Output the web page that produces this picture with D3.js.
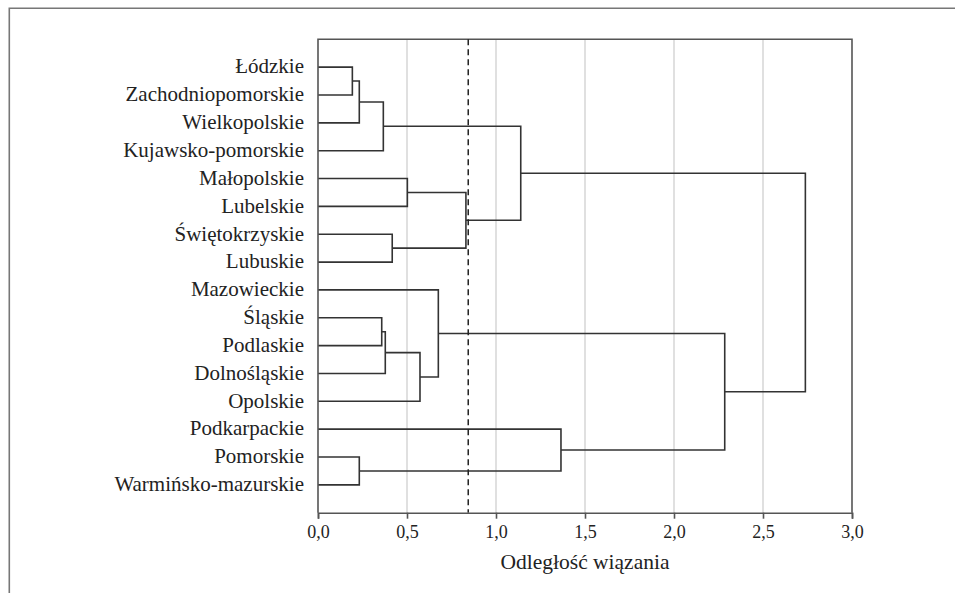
<!DOCTYPE html>
<html>
<head>
<meta charset="utf-8">
<script src="https://cdn.jsdelivr.net/npm/d3@7/dist/d3.min.js"></script>
<style>
  html, body { margin: 0; padding: 0; background: #fff; }
  svg { display: block; }
  svg text { font-family: 'Liberation Serif'; }
</style>
</head>
<body>
<svg id="chart" width="955" height="594" font-family="Liberation Serif"></svg>
<script>
// Voivodeships in dendrogram leaf order (top to bottom)
const regions = [
  "Łódzkie", "Zachodniopomorskie", "Wielkopolskie", "Kujawsko-pomorskie",
  "Małopolskie", "Lubelskie", "Świętokrzyskie", "Lubuskie",
  "Mazowieckie", "Śląskie", "Podlaskie", "Dolnośląskie", "Opolskie",
  "Podkarpackie", "Pomorskie", "Warmińsko-mazurskie"
];

// Linkage steps: [cluster A, cluster B, linkage distance].
// Indices 0–15 are the regions above; 16+ are clusters created by earlier steps.
const mergeA    = [0,     16,    14,    9,     17,    19,    6,     4,     21,    8,     23,    20,    13,    25,    27];
const mergeB    = [1,     2,     15,    10,    3,     11,    7,     5,     12,    24,    22,    26,    18,    28,    29];
const mergeDist = [0.193, 0.232, 0.232, 0.358, 0.367, 0.378, 0.417, 0.502, 0.573, 0.676, 0.831, 1.139, 1.365, 2.285, 2.738];

// Cut-off distance (dashed line)
const cutDistance = 0.844;

// Axis ticks
const xTicks = [0, 0.5, 1, 1.5, 2, 2.5, 3];
const axisTitle = "Odległość wiązania";

const FONT = "Liberation Serif";

const svg = d3.select("#chart");
const plot = { left: 318, right: 852, top: 39.3, bottom: 512.7 };

const x = d3.scaleLinear().domain([0, 3]).range([plot.left, plot.right]);
const y = d3.scalePoint().domain(regions).range([plot.top, plot.bottom]).padding(1);

const fmt = d3.formatLocale({ decimal: ",", thousands: " ", grouping: [3], currency: ["", " zł"] }).format(".1f");

// Outer frame (top and left edges)
svg.append("path")
  .attr("d", "M9.3,593 V8.3 H955")
  .attr("fill", "none")
  .attr("stroke", "#777")
  .attr("stroke-width", 1.6);

// Vertical gridlines
svg.append("g")
  .selectAll("line")
  .data(xTicks.filter(t => t > 0 && t < 3))
  .join("line")
  .attr("x1", d => x(d)).attr("x2", d => x(d))
  .attr("y1", plot.top).attr("y2", plot.bottom)
  .attr("stroke", "#d9d9d9")
  .attr("stroke-width", 1.6);

// Node positions: leaves at distance 0, clusters at the midpoint of their children
const nodes = regions.map(r => ({ h: 0, y: y(r) }));
mergeA.forEach((a, i) => {
  const A = nodes[a], B = nodes[mergeB[i]];
  nodes.push({ h: mergeDist[i], y: (A.y + B.y) / 2, a: A, b: B });
});

// Dendrogram links
svg.append("g")
  .selectAll("path")
  .data(nodes.filter(n => n.a))
  .join("path")
  .attr("d", n => `M${x(n.a.h)},${n.a.y} H${x(n.h)} V${n.b.y} H${x(n.b.h)}`)
  .attr("fill", "none")
  .attr("stroke", "#333")
  .attr("stroke-width", 1.6);

// Plot frame (top, right, left)
svg.append("path")
  .attr("d", `M${plot.left},${plot.bottom} V${plot.top} H${plot.right} V${plot.bottom}`)
  .attr("fill", "none")
  .attr("stroke", "#555")
  .attr("stroke-width", 1.6);

// Cut-off line
svg.append("line")
  .attr("x1", x(cutDistance)).attr("x2", x(cutDistance))
  .attr("y1", plot.top).attr("y2", plot.bottom)
  .attr("stroke", "#222")
  .attr("stroke-width", 1.5)
  .attr("stroke-dasharray", "6,4");

// Region labels
svg.append("g")
  .attr("font-family", FONT)
  .selectAll("text")
  .data(regions)
  .join("text")
  .attr("x", 304)
  .attr("y", d => y(d))
  .attr("dy", "0.3em")
  .attr("text-anchor", "end")
  .attr("font-family", FONT)
  .attr("font-size", 21)
  .attr("fill", "#222")
  .text(d => d);

// Bottom axis
const axis = svg.append("g")
  .attr("transform", `translate(0,${plot.bottom})`)
  .call(d3.axisBottom(x).tickValues(xTicks).tickFormat(fmt).tickSize(6).tickPadding(7))
  .attr("font-family", FONT);
axis.select(".domain").attr("stroke", "#555").attr("stroke-width", 1.6);
axis.selectAll(".tick line").attr("stroke", "#555").attr("stroke-width", 1.6);
axis.selectAll(".tick text")
  .attr("font-family", FONT)
  .attr("font-size", 18)
  .attr("fill", "#222");

// Axis title
svg.append("text")
  .attr("x", x(1.5))
  .attr("y", 569)
  .attr("text-anchor", "middle")
  .attr("font-family", FONT)
  .attr("font-size", 21.5)
  .attr("fill", "#222")
  .text(axisTitle);
</script>
</body>
</html>
